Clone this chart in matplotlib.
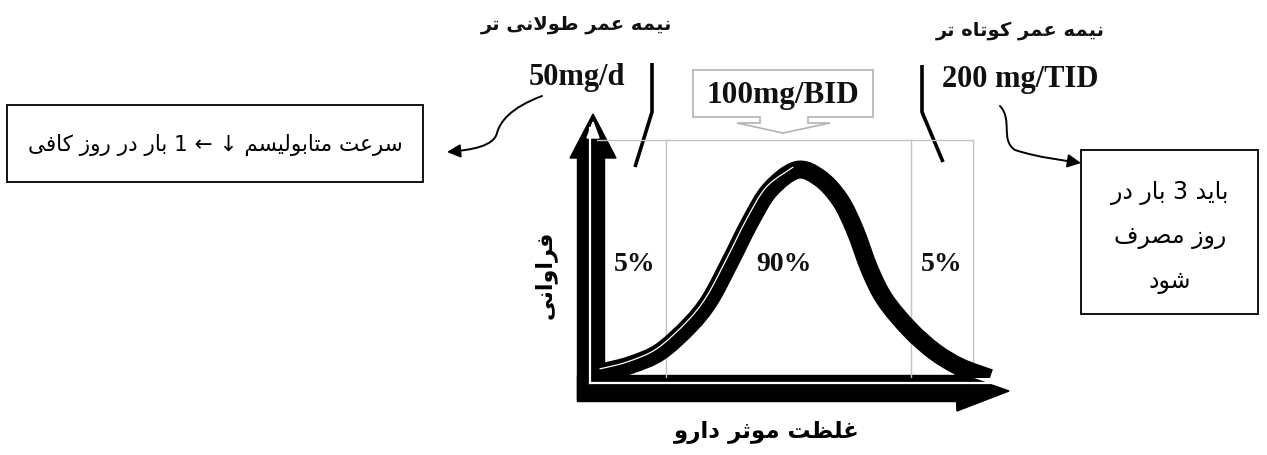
import matplotlib
matplotlib.use('Agg')
import matplotlib.pyplot as plt
from matplotlib.path import Path
from matplotlib.patches import FancyArrowPatch, Polygon, Rectangle, PathPatch
import matplotlib.transforms as mtransforms

# ---------------- data ----------------
conc = [1.5, 8.2, 15.6, 23.1, 28.0, 33.0, 38.0, 42.9, 49.6, 55.3, 60.3, 64.0, 67.7, 71.5, 77.7, 83.9, 90.1, 97.5]
freq = [2.3, 4.9, 9.9, 20.2, 29.7, 44.1, 59.3, 71.5, 79.1, 76.0, 67.7, 56.3, 41.1, 29.7, 18.3, 9.9, 4.2, 0.0]
region_bounds = [17.1, 77.9, 93.3]
region_top = 90.5
region_labels = ['5%', '90%', '5%']
region_label_x = [9.4, 46.4, 85.6]
region_label_y = 43
dose_labels = ['50mg/d', '100mg/BID', '200 mg/TID']
halflife_labels = ['نیمه عمر طولانی تر', 'نیمه عمر کوتاه تر']
left_note = 'سرعت متابولیسم ↓ ← 1 بار در روز کافی'
right_note = ['باید 3 بار در', 'روز مصرف', 'شود']
xlabel = 'غلظت موثر دارو'
ylabel = 'فراوانی'

# ---------------- minimal Persian shaping ----------------
_F = {  # isolated, final, initial, medial
    'ا': ('\uFE8D', '\uFE8E', None, None),
    'ب': ('\uFE8F', '\uFE90', '\uFE91', '\uFE92'),
    'ت': ('\uFE95', '\uFE96', '\uFE97', '\uFE98'),
    'ث': ('\uFE99', '\uFE9A', '\uFE9B', '\uFE9C'),
    'د': ('\uFEA9', '\uFEAA', None, None),
    'ر': ('\uFEAD', '\uFEAE', None, None),
    'ز': ('\uFEAF', '\uFEB0', None, None),
    'س': ('\uFEB1', '\uFEB2', '\uFEB3', '\uFEB4'),
    'ش': ('\uFEB5', '\uFEB6', '\uFEB7', '\uFEB8'),
    'ص': ('\uFEB9', '\uFEBA', '\uFEBB', '\uFEBC'),
    'ط': ('\uFEC1', '\uFEC2', '\uFEC3', '\uFEC4'),
    'ظ': ('\uFEC5', '\uFEC6', '\uFEC7', '\uFEC8'),
    'ع': ('\uFEC9', '\uFECA', '\uFECB', '\uFECC'),
    'غ': ('\uFECD', '\uFECE', '\uFECF', '\uFED0'),
    'ف': ('\uFED1', '\uFED2', '\uFED3', '\uFED4'),
    'ک': ('\uFED9', '\uFEDA', '\uFEDB', '\uFEDC'),
    'ل': ('\uFEDD', '\uFEDE', '\uFEDF', '\uFEE0'),
    'م': ('\uFEE1', '\uFEE2', '\uFEE3', '\uFEE4'),
    'ن': ('\uFEE5', '\uFEE6', '\uFEE7', '\uFEE8'),
    'ه': ('\uFEE9', '\uFEEA', '\uFEEB', '\uFEEC'),
    'و': ('\uFEED', '\uFEEE', None, None),
    'ی': ('\uFEEF', '\uFEF0', '\uFEF3', '\uFEF4'),
}


def shape_word(w):
    out = []
    i, n = 0, len(w)
    while i < n:
        c = w[i]
        if c not in _F:
            out.append(c)
            i += 1
            continue
        prev = i > 0 and w[i - 1] in _F and _F[w[i - 1]][2] is not None
        if c == 'ل' and i + 1 < n and w[i + 1] == 'ا':
            out.append('\uFEFC' if prev else '\uFEFB')
            i += 2
            continue
        nxt = _F[c][2] is not None and i + 1 < n and w[i + 1] in _F
        f = _F[c]
        out.append(f[3] if (prev and nxt) else f[1] if prev else f[2] if nxt else f[0])
        i += 1
    return ''.join(out)[::-1]


def fa(text):
    # right-to-left: shape each word, lay the words out from right to left
    return ' '.join(shape_word(t) for t in reversed(text.split(' ')))


def smooth_path(xs, ys):
    # Catmull-Rom through the points, expressed as cubic Bezier segments
    pts = list(zip(xs, ys))
    verts = [pts[0]]
    codes = [Path.MOVETO]
    for i in range(len(pts) - 1):
        p0 = pts[i - 1] if i > 0 else pts[i]
        p1, p2 = pts[i], pts[i + 1]
        p3 = pts[i + 2] if i + 2 < len(pts) else pts[i + 1]
        c1 = (p1[0] + (p2[0] - p0[0]) / 6, p1[1] + (p2[1] - p0[1]) / 6)
        c2 = (p2[0] - (p3[0] - p1[0]) / 6, p2[1] - (p3[1] - p1[1]) / 6)
        verts += [c1, c2, p2]
        codes += [Path.CURVE4] * 3
    return Path(verts, codes)


FA = ['DejaVu Sans']
SERIF = ['Liberation Serif', 'DejaVu Serif']

# ---------------- figure ----------------
W, H = 1267, 455
fig = plt.figure(figsize=(W / 100, H / 100), dpi=100)
fig.patch.set_facecolor('white')

ov = fig.add_axes([0, 0, 1, 1])
ov.set_xlim(0, W)
ov.set_ylim(H, 0)
ov.axis('off')
ov.set_zorder(0)

# inner plot area (data coords 0..100)
x0, y0, x1, y1 = 597, 378, 1000, 115
ax = fig.add_axes([x0 / W, (H - y0) / H, (x1 - x0) / W, (y0 - y1) / H])
ax.set_xlim(0, 100)
ax.set_ylim(0, 100)
ax.axis('off')
ax.patch.set_alpha(0)
ax.set_zorder(2)

# region boxes (gray)
gray = '#c4c4c4'
for b in region_bounds:
    ax.plot([b, b], [0, region_top], color=gray, lw=1.0, zorder=1)
ax.plot([0, region_bounds[-1]], [region_top, region_top], color=gray, lw=1.0, zorder=1)
for lx, lab in zip(region_label_x, region_labels):
    ax.text(lx, region_label_y, lab, ha='center', va='center', fontsize=20,
            fontweight='bold', family=SERIF, color='#111111', zorder=5)

# distribution curve
ax.add_patch(PathPatch(smooth_path(conc, freq), fill=False, edgecolor='black',
                       lw=13, joinstyle='round', capstyle='butt', zorder=3))
off = mtransforms.offset_copy(ax.transData, fig=fig, x=-3.5, y=3.0, units='dots')
ax.add_patch(PathPatch(smooth_path(conc[:9], freq[:9]), fill=False, edgecolor='white',
                       lw=0.9, transform=off, zorder=4))

# --- axes decoration (overlay, pixel coords) ---
ov.add_patch(Rectangle((577, 150), 27, 250, color='black', zorder=2))
ov.add_patch(Rectangle((577, 375), 383, 26, color='black', zorder=2))
ov.add_patch(Polygon([(570, 158), (616, 158), (593, 114)], closed=True, color='black', zorder=2))
ov.add_patch(Polygon([(587, 138), (599, 138), (593, 122)], closed=True, color='white', zorder=3))
ov.add_patch(Polygon([(955, 372), (1009, 391), (957, 411)], closed=True, color='black', zorder=2))
ov.plot([590, 590], [128, 383], color='white', lw=1.6, zorder=3)
ov.plot([590, 1000], [383, 383], color='white', lw=1.6, zorder=3)

# callout for 100mg/BID
ov.add_patch(Polygon([(693, 70), (873, 70), (873, 117), (808, 117), (808, 123),
                      (830, 123), (783, 133), (737, 123), (760, 123), (760, 117),
                      (693, 117)], closed=True, facecolor='white',
                     edgecolor='#b3b3b3', lw=1.2, zorder=2))

# dose labels
ov.text(577, 78, dose_labels[0], ha='center', va='center', fontsize=22,
        fontweight='bold', family=SERIF, color='#111111')
ov.text(783, 96, dose_labels[1], ha='center', va='center', fontsize=22.5,
        fontweight='bold', family=SERIF, color='#111111', zorder=4)
ov.text(1020, 80, dose_labels[2], ha='center', va='center', fontsize=22,
        fontweight='bold', family=SERIF, color='#111111')

# half-life labels
ov.text(577, 25, fa(halflife_labels[0]), ha='center', va='center', fontsize=14,
        fontweight='bold', family=FA, color='#111111')
ov.text(1020, 30, fa(halflife_labels[1]), ha='center', va='center', fontsize=14,
        fontweight='bold', family=FA, color='#111111')

# black bracket lines
ov.plot([652, 652, 635], [63, 112, 167], color='black', lw=2.6, solid_capstyle='butt')
ov.plot([922, 922, 943], [65, 112, 162], color='black', lw=2.6, solid_capstyle='butt')

# note boxes
ov.add_patch(Rectangle((7, 105), 416, 77, facecolor='white', edgecolor='black', lw=1.3))
ov.text(215, 145, fa(left_note), ha='center', va='center', fontsize=15.5, family=FA)

ov.add_patch(Rectangle((1081, 150), 177, 164, facecolor='white', edgecolor='black', lw=1.3))
for yy, line in zip([193, 237, 282], right_note):
    ov.text(1170, yy, fa(line), ha='center', va='center', fontsize=17, family=FA)

# curved arrows
C = Path.CURVE4
left_path = Path([(542, 96), (510, 108), (500, 122), (497, 133),
                  (494, 146), (472, 150), (447, 152)],
                 [Path.MOVETO, C, C, C, C, C, C])
ov.add_patch(FancyArrowPatch(path=left_path, arrowstyle='-|>', mutation_scale=20,
                             lw=1.4, color='black'))
right_path = Path([(1000, 106), (1013, 120), (1000, 140), (1015, 150),
                   (1040, 158), (1062, 160), (1081, 163)],
                  [Path.MOVETO, C, C, C, C, C, C])
ov.add_patch(FancyArrowPatch(path=right_path, arrowstyle='-|>', mutation_scale=20,
                             lw=1.4, color='black'))

# axis titles
ov.text(767, 432, fa(xlabel), ha='center', va='center', fontsize=16.5,
        fontweight='bold', family=FA)
ov.text(545, 275, fa(ylabel), ha='center', va='center', fontsize=16,
        fontweight='bold', family=FA, rotation=90)

fig.savefig('out.png', dpi=100, facecolor='white')
